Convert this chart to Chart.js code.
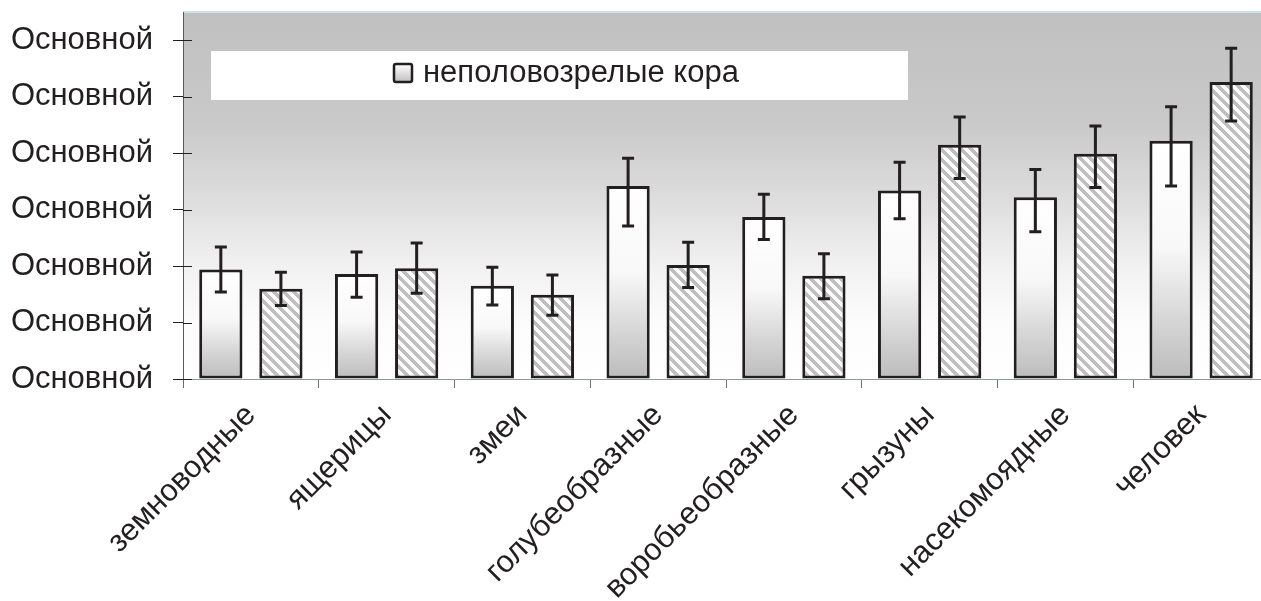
<!DOCTYPE html>
<html>
<head>
<meta charset="utf-8">
<script src="https://cdn.jsdelivr.net/npm/chart.js@4.4.1/dist/chart.umd.min.js"></script>
<style>
  html, body { margin: 0; padding: 0; background: #fff; overflow: hidden; }
  #wrap { width: 1270px; height: 601px; }
</style>
</head>
<body>
<div id="wrap"><canvas id="chart" width="1270" height="601"></canvas></div>
<script>
// categories and labels
const categories = ['земноводные', 'ящерицы', 'змеи', 'голубеобразные', 'воробьеобразные', 'грызуны', 'насекомоядные', 'человек'];
const yTickLabel = 'Основной';
const legendLabel = 'неполовозрелые кора';
const secondLabel = 'половозрелые кора';

// series 1 (gradient bars)
const immatureValues = [1.94, 1.86, 1.65, 3.42, 2.87, 3.34, 3.22, 4.22];
const immatureHigh   = [2.34, 2.25, 1.98, 3.91, 3.27, 3.84, 3.71, 4.82];
const immatureLow    = [1.54, 1.45, 1.31, 2.71, 2.47, 2.84, 2.61, 3.42];

// series 2 (hatched bars)
const matureValues = [1.60, 1.96, 1.49, 2.02, 1.83, 4.15, 3.99, 5.26];
const matureHigh   = [1.89, 2.41, 1.84, 2.42, 2.22, 4.64, 4.48, 5.86];
const matureLow    = [1.30, 1.52, 1.13, 1.62, 1.42, 3.55, 3.39, 4.57];

const ink = '#231f20';
Chart.defaults.font.family = "'Liberation Sans', Arial, sans-serif";

function bodyGradient(c) {
  const chart = c.chart;
  if (!chart.chartArea || c.raw === undefined) return '#ffffff';
  const y = chart.scales.y;
  const g = chart.ctx.createLinearGradient(0, y.getPixelForValue(c.raw), 0, y.getPixelForValue(0));
  g.addColorStop(0, '#ffffff');
  g.addColorStop(0.45, '#f8f8f8');
  g.addColorStop(0.75, '#d6d6d6');
  g.addColorStop(1, '#bcbcbc');
  return g;
}

// crisp "\" stripes, one pixel at a time
function hatchPattern() {
  const n = 10, w = 5;
  const tile = document.createElement('canvas');
  tile.width = n; tile.height = n;
  const t = tile.getContext('2d');
  t.fillStyle = '#ffffff';
  t.fillRect(0, 0, n, n);
  t.fillStyle = '#bfbfbf';
  for (let py = 0; py < n; py++) {
    for (let px = 0; px < n; px++) {
      if (((px - py) % n + n) % n < w) t.fillRect(px, py, 1, 1);
    }
  }
  return t.createPattern(tile, 'repeat');
}

const plotBackground = {
  id: 'plotBackground',
  beforeDraw(chart) {
    const { ctx, chartArea: a } = chart;
    const g = ctx.createLinearGradient(0, a.top, 0, a.bottom);
    g.addColorStop(0, '#c0c0c0');
    g.addColorStop(0.3, '#c9c9c9');
    g.addColorStop(0.5, '#dcdcdc');
    g.addColorStop(0.7, '#f2f2f2');
    g.addColorStop(0.85, '#fcfcfc');
    g.addColorStop(1, '#ffffff');
    ctx.save();
    ctx.fillStyle = g;
    ctx.fillRect(a.left, a.top, a.right - a.left, a.bottom - a.top);
    ctx.strokeStyle = '#cfe3ec';
    ctx.lineWidth = 2;
    ctx.beginPath();
    ctx.moveTo(a.left, a.top);
    ctx.lineTo(a.right, a.top);
    ctx.stroke();
    ctx.restore();
  }
};

const innerTicks = {
  id: 'innerTicks',
  afterDraw(chart) {
    const { ctx, chartArea: a, scales: { y } } = chart;
    ctx.save();
    ctx.strokeStyle = ink;
    ctx.lineWidth = 1;
    y.ticks.forEach(t => {
      const py = Math.round(y.getPixelForValue(t.value)) + 0.5;
      ctx.beginPath();
      ctx.moveTo(a.left, py);
      ctx.lineTo(a.left + 9, py);
      ctx.stroke();
    });
    ctx.restore();
  }
};

const errorBars = {
  id: 'errorBars',
  afterDatasetsDraw(chart) {
    const { ctx, scales: { y } } = chart;
    ctx.save();
    ctx.strokeStyle = ink;
    ctx.lineWidth = 3;
    chart.data.datasets.forEach((ds, i) => {
      chart.getDatasetMeta(i).data.forEach((bar, j) => {
        const top = y.getPixelForValue(ds.errHigh[j]);
        const bot = y.getPixelForValue(ds.errLow[j]);
        ctx.beginPath();
        ctx.moveTo(bar.x, top); ctx.lineTo(bar.x, bot);
        ctx.moveTo(bar.x - 6, top); ctx.lineTo(bar.x + 6, top);
        ctx.moveTo(bar.x - 6, bot); ctx.lineTo(bar.x + 6, bot);
        ctx.stroke();
      });
    });
    ctx.restore();
  }
};

const boxLegend = {
  id: 'boxLegend',
  afterDraw(chart) {
    const { ctx, chartArea: a } = chart;
    const x = a.left + 28, y = a.top + 39;
    ctx.save();
    ctx.fillStyle = '#ffffff';
    ctx.fillRect(x, y, 697, 49);
    const g = ctx.createLinearGradient(0, 64, 0, 83);
    g.addColorStop(0, '#ffffff');
    g.addColorStop(1, '#bcbcbc');
    ctx.fillStyle = g;
    ctx.strokeStyle = ink;
    ctx.lineWidth = 2.5;
    ctx.beginPath();
    ctx.roundRect(394, 64, 18, 18, 2);
    ctx.fill();
    ctx.stroke();
    ctx.fillStyle = ink;
    ctx.font = "31px 'Liberation Sans', Arial, sans-serif";
    ctx.textBaseline = 'alphabetic';
    ctx.fillText(chart.data.datasets[0].label, 423, 82);
    ctx.restore();
  }
};

const ctx = document.getElementById('chart').getContext('2d');
const chart = new Chart(ctx, {
  type: 'bar',
  data: {
    labels: categories,
    datasets: [{
      label: legendLabel,
      data: immatureValues,
      errHigh: immatureHigh,
      errLow: immatureLow,
      backgroundColor: bodyGradient,
      borderColor: ink,
      borderWidth: 3,
      borderSkipped: false
    }, {
      label: secondLabel,
      data: matureValues,
      errHigh: matureHigh,
      errLow: matureLow,
      backgroundColor: hatchPattern(),
      borderColor: ink,
      borderWidth: 3,
      borderSkipped: false
    }]
  },
  options: {
    responsive: false,
    animation: false,
    categoryPercentage: 0.885,
    barPercentage: 0.72,
    layout: { padding: { top: 12, left: 0, right: 1, bottom: 0 } },
    plugins: { legend: { display: false }, tooltip: { enabled: false } },
    scales: {
      x: {
        grid: { drawOnChartArea: false, offset: true, tickLength: 9, color: '#6d6e71' },
        border: { color: '#8a9aa3', width: 1 },
        ticks: { font: { size: 31 }, color: ink, minRotation: 45, maxRotation: 45, autoSkip: false, padding: 9 },
        afterFit(scale) { scale.height = 222; scale.paddingLeft = 0; scale.paddingRight = 0; }
      },
      y: {
        min: 0,
        max: 6.5,
        ticks: { stepSize: 1, includeBounds: false, callback: () => yTickLabel, font: { size: 31 }, color: ink, padding: 20 },
        grid: { drawOnChartArea: false, tickLength: 10, color: ink },
        border: { color: '#58595b', width: 1 },
        afterFit(scale) { scale.width = 183; scale.paddingTop = 0; scale.paddingBottom = 0; }
      }
    }
  },
  plugins: [plotBackground, innerTicks, errorBars, boxLegend]
});
</script>
</body>
</html>
